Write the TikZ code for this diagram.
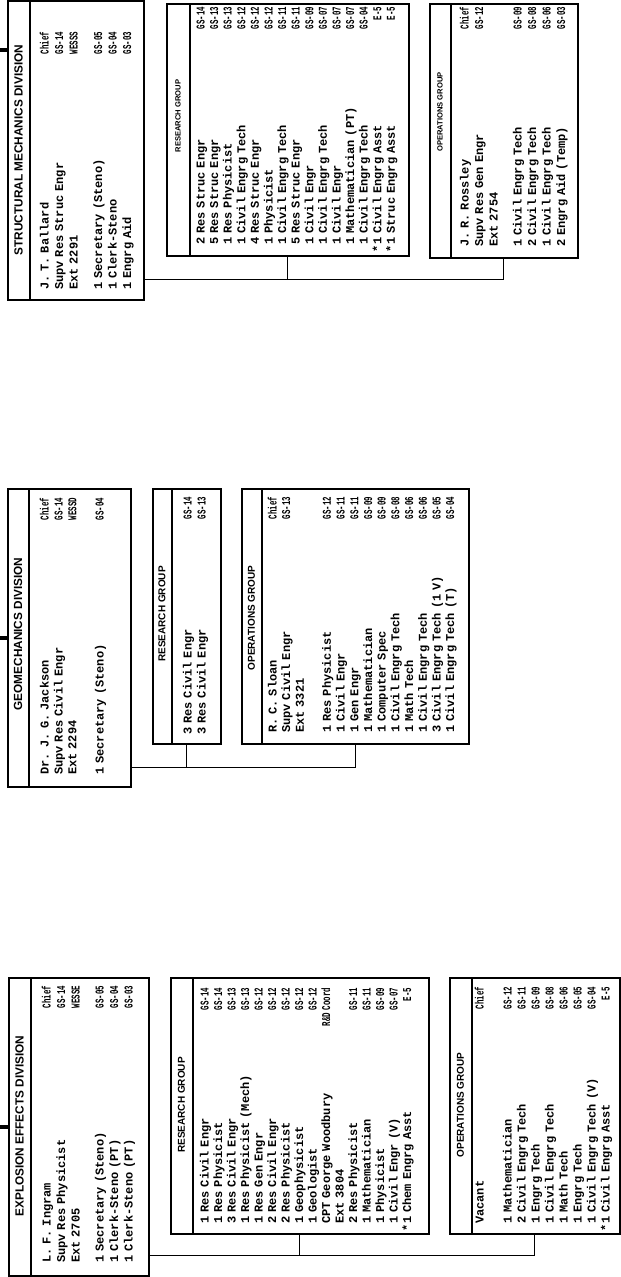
\documentclass[tikz,border=0pt]{standalone}
\usepackage{fontspec}
\usepackage{graphicx}
\newfontfamily\tw{Liberation Mono}
\newfontfamily\hd{Liberation Sans}
\newcommand{\gr}[1]{\scalebox{0.62}[1]{#1}}
\newcommand{\st}{\leavevmode\llap{*}}
\tikzset{
  box/.style 2 args={draw, line width=1.5pt, inner sep=0pt, anchor=north west,
    minimum width=#1, minimum height=#2},
  sep/.style={line width=1.2pt},
  link/.style={line width=1.3pt},
  stub/.style={line width=4pt},
  ttl/.style={rotate=90, inner sep=0pt, font=\hd\bfseries\fontsize{10}{10}\selectfont},
  big/.style={font=\hd\bfseries\fontsize{11.8}{12}\selectfont},
  sml/.style={font=\hd\bfseries\fontsize{7.6}{8}\selectfont},
  txt/.style 2 args={rotate=90, anchor=base west, inner sep=0pt, align=left,
    text width=#1, font=\tw\bfseries\fontsize{12}{#2}\selectfont}
}
\begin{document}
\begin{tikzpicture}[x=1pt, y=-1pt]
\useasboundingbox[fill=white] (0,0) rectangle (621,1277);

% structural mechanics
\node[box={136}{299}] (smd) at (7,0) {};
\node[box={242}{252}] (smr) at (166,3) {};
\node[box={148}{254}] (smo) at (429,3) {};
\draw[sep] ([xshift=23pt]smd.north west) -- ([xshift=23pt]smd.south west);
\draw[sep] ([xshift=24pt]smr.north west) -- ([xshift=24pt]smr.south west);
\draw[sep] ([xshift=22pt]smo.north west) -- ([xshift=22pt]smo.south west);
\node[ttl,big] (smdT) at (18.5,150) {STRUCTURAL MECHANICS DIVISION};
\node[ttl,sml] (smrT) at (178,116) {RESEARCH GROUP};
\node[ttl,sml] (smoT) at (440,112) {OPERATIONS GROUP};
\node[txt={258pt}{14.5}] (smdL) at (48.5,290) {J. T. Ballard\hfill\gr{Chief}\\
  Supv Res Struc Engr\hfill\gr{GS-14}\\ Ext 2291\hfill\gr{WESSS}\\[10pt]
  1 Secretary (Steno)\hfill\gr{GS-05}\\ 1 Clerk-Steno\hfill\gr{GS-04}\\
  1 Engrg Aid\hfill\gr{GS-03}};
\node[txt={238pt}{13.6}] (smrL) at (204.5,245) {2 Res Struc Engr\hfill\gr{GS-14}\\
  5 Res Struc Engr\hfill\gr{GS-13}\\ 1 Res Physicist\hfill\gr{GS-13}\\
  1 Civil Engrg Tech\hfill\gr{GS-12}\\ 4 Res Struc Engr\hfill\gr{GS-12}\\
  1 Physicist\hfill\gr{GS-12}\\ 1 Civil Engrg Tech\hfill\gr{GS-11}\\
  5 Res Struc Engr\hfill\gr{GS-11}\\ 1 Civil Engr\hfill\gr{GS-09}\\
  1 Civil Engrg Tech\hfill\gr{GS-07}\\ 1 Civil Engr\hfill\gr{GS-07}\\
  1 Mathematician (PT)\hfill\gr{GS-07}\\ 1 Civil Engrg Tech\hfill\gr{GS-04}\\
  \st 1 Civil Engrg Asst\hfill\gr{E-5}\\ \st 1 Struc Engrg Asst\hfill\gr{E-5}};
\node[txt={240pt}{14.5}] (smoL) at (468.5,247) {J. R. Rossley\hfill\gr{Chief}\\
  Supv Res Gen Engr\hfill\gr{GS-12}\\ Ext 2754\\[9.5pt]
  1 Civil Engrg Tech\hfill\gr{GS-09}\\ 2 Civil Engrg Tech\hfill\gr{GS-08}\\
  1 Civil Engrg Tech\hfill\gr{GS-06}\\ 2 Engrg Aid (Temp)\hfill\gr{GS-03}};
\coordinate (smc) at ([yshift=21pt]smd.south east);
\draw[link] (smc) -| (smo.south);
\draw[link] (smr.south) -- (smr.south |- smc);
\draw[stub] ([yshift=-50pt]smd.north west) -- ++(-7,0);

% geomechanics
\node[box={123}{298}] (gmd) at (7,488) {};
\node[box={68}{255}] (gmr) at (152,488) {};
\node[box={227}{255}] (gmo) at (241,488) {};
\draw[sep] ([xshift=22pt]gmd.north west) -- ([xshift=22pt]gmd.south west);
\draw[sep] ([xshift=20pt]gmr.north west) -- ([xshift=20pt]gmr.south west);
\draw[sep] ([xshift=21pt]gmo.north west) -- ([xshift=21pt]gmo.south west);
\node[ttl,big] (gmdT) at (18,634) {GEOMECHANICS DIVISION};
\node[ttl] (gmrT) at (162,614) {RESEARCH GROUP};
\node[ttl] (gmoT) at (251.5,618) {OPERATIONS GROUP};
\node[txt={277pt}{14}] (gmdL) at (48.5,775) {Dr. J. G. Jackson\hfill\gr{Chief}\\
  Supv Res Civil Engr\hfill\gr{GS-14}\\ Ext 2294\hfill\gr{WESSD}\\[13pt]
  1 Secretary (Steno)\hfill\gr{GS-04}};
\node[txt={238pt}{14}] (gmrL) at (191.5,735) {3 Res Civil Engr\hfill\gr{GS-14}\\
  3 Res Civil Engr\hfill\gr{GS-13}};
\node[txt={236pt}{13.7}] (gmoL) at (276.5,733) {R. C. Sloan\hfill\gr{Chief}\\
  Supv Civil Engr\hfill\gr{GS-13}\\ Ext 3321\\[13.3pt]
  1 Res Physicist\hfill\gr{GS-12}\\ 1 Civil Engr\hfill\gr{GS-11}\\
  1 Gen Engr\hfill\gr{GS-11}\\ 1 Mathematician\hfill\gr{GS-09}\\
  1 Computer Spec\hfill\gr{GS-09}\\ 1 Civil Engrg Tech\hfill\gr{GS-08}\\
  1 Math Tech\hfill\gr{GS-06}\\ 1 Civil Engrg Tech\hfill\gr{GS-06}\\
  3 Civil Engrg Tech (1 V)\hfill\gr{GS-05}\\ 1 Civil Engrg Tech (T)\hfill\gr{GS-04}};
\coordinate (gmc) at ([yshift=20pt]gmd.south east);
\draw[link] (gmc) -| (gmo.south);
\draw[link] (gmr.south) -- (gmr.south |- gmc);
\draw[stub] ([yshift=-150pt]gmd.north west) -- ++(-7,0);

% explosion effects
\node[box={140}{298}] (eed) at (8,977) {};
\node[box={258}{256}] (eer) at (170,977) {};
\node[box={170}{256}] (eeo) at (449,977) {};
\draw[sep] ([xshift=23pt]eed.north west) -- ([xshift=23pt]eed.south west);
\draw[sep] ([xshift=23pt]eer.north west) -- ([xshift=23pt]eer.south west);
\draw[sep] ([xshift=23pt]eeo.north west) -- ([xshift=23pt]eeo.south west);
\node[ttl,big] (eedT) at (19.5,1126) {EXPLOSION EFFECTS DIVISION};
\node[ttl] (eerT) at (181.5,1105) {RESEARCH GROUP};
\node[ttl] (eeoT) at (460.5,1105) {OPERATIONS GROUP};
\node[txt={277pt}{14.5}] (eedL) at (50.5,1263) {L. F. Ingram\hfill\gr{Chief}\\
  Supv Res Physicist\hfill\gr{GS-14}\\ Ext 2705\hfill\gr{WESSE}\\[9.5pt]
  1 Secretary (Steno)\hfill\gr{GS-05}\\ 1 Clerk-Steno (PT)\hfill\gr{GS-04}\\
  1 Clerk-Steno (PT)\hfill\gr{GS-03}};
\node[txt={236pt}{13.5}] (eerL) at (208.5,1224) {1 Res Civil Engr\hfill\gr{GS-14}\\
  1 Res Physicist\hfill\gr{GS-14}\\ 3 Res Civil Engr\hfill\gr{GS-13}\\
  1 Res Physicist (Mech)\hfill\gr{GS-13}\\ 1 Res Gen Engr\hfill\gr{GS-12}\\
  2 Res Civil Engr\hfill\gr{GS-12}\\ 2 Res Physicist\hfill\gr{GS-12}\\
  1 Geophysicist\hfill\gr{GS-12}\\ 1 Geologist\hfill\gr{GS-12}\\
  CPT George Woodbury\hfill\gr{R\&D Coord}\\ Ext 3804\\
  2 Res Physicist\hfill\gr{GS-11}\\ 1 Mathematician\hfill\gr{GS-11}\\
  1 Physicist\hfill\gr{GS-09}\\ 1 Civil Engr (V)\hfill\gr{GS-07}\\
  \st 1 Chem Engrg Asst\hfill\gr{E-5}};
\node[txt={237pt}{14}] (eeoL) at (483.5,1224) {Vacant\hfill\gr{Chief}\\[14pt]
  1 Mathematician\hfill\gr{GS-12}\\ 2 Civil Engrg Tech\hfill\gr{GS-11}\\
  1 Engrg Tech\hfill\gr{GS-09}\\ 1 Civil Engrg Tech\hfill\gr{GS-08}\\
  1 Math Tech\hfill\gr{GS-06}\\ 1 Engrg Tech\hfill\gr{GS-05}\\
  1 Civil Engrg Tech (V)\hfill\gr{GS-04}\\ \st 1 Civil Engrg Asst\hfill\gr{E-5}};
\coordinate (eec) at ([yshift=21pt]eed.south east);
\draw[link] (eec) -| (eeo.south);
\draw[link] (eer.south) -- (eer.south |- eec);
\draw[stub] ([yshift=-150pt]eed.north west) -- ++(-8,0);
\end{tikzpicture}
\end{document}
